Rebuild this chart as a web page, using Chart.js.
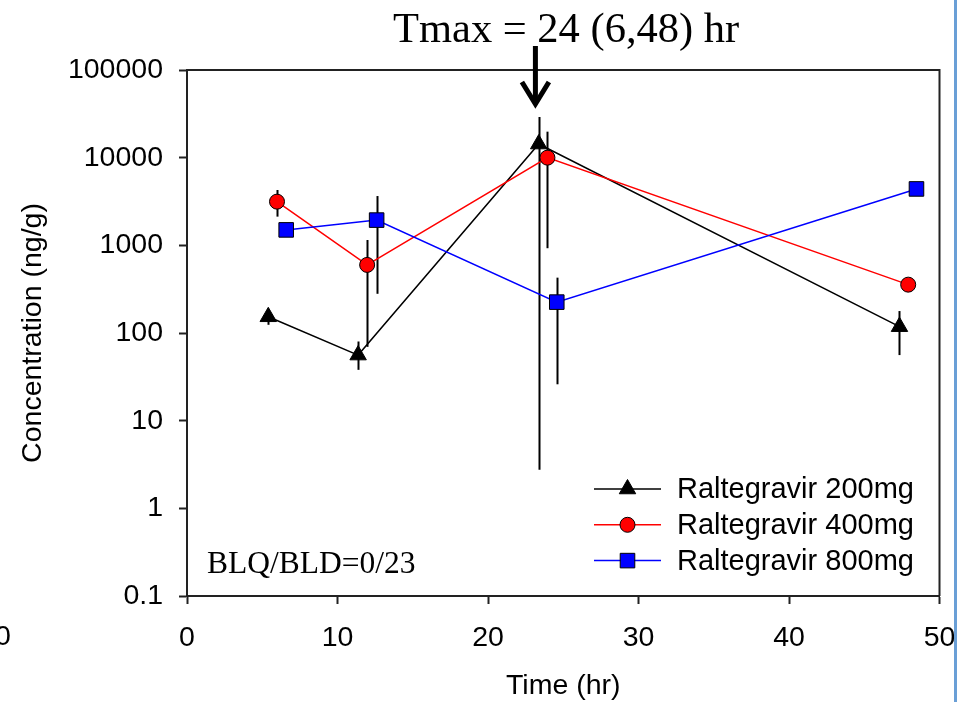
<!DOCTYPE html>
<html>
<head>
<meta charset="utf-8">
<script src="https://cdn.jsdelivr.net/npm/chart.js@4.4.0/dist/chart.umd.min.js"></script>
<style>
html,body{margin:0;padding:0;background:#fff;}
#wrap{width:957px;height:702px;position:relative;}
</style>
</head>
<body>
<div id="wrap"><canvas id="chart" width="957" height="702"></canvas></div>
<script>
// data
const seriesNames = ['Raltegravir 200mg', 'Raltegravir 400mg', 'Raltegravir 800mg'];
const time200 = [5.4, 11.37, 23.37, 47.34];
const conc200 = [153, 56, 14300, 118];
const low200  = [124, 38, 2.75, 56];
const high200 = [175, 80, 29100, 178];

const time400 = [5.98, 11.97, 23.95, 47.92];
const conc400 = [3150, 598, 10000, 356];
const low400  = [2125, 69.5, 927, null];
const high400 = [4280, 1150, 19800, null];

const time800 = [6.59, 12.6, 24.57, 48.47];
const conc800 = [1500, 1940, 225, 4400];
const low800  = [null, 280, 26, null];
const high800 = [null, 3650, 428, null];

const xTicks = [0, 10, 20, 30, 40, 50];
const yTicks = [0.1, 1, 10, 100, 1000, 10000, 100000];

const tmaxText = 'Tmax = 24 (6,48) hr';
const blqText = 'BLQ/BLD=0/23';
const tmaxArrowX = 23.15;

const sans = '"Liberation Sans", Arial, sans-serif';
const serif = '"Liberation Serif", "Times New Roman", serif';

function pts(xs, ys) { return xs.map((x, i) => ({x: x, y: ys[i]})); }

const errs = [[low200, high200], [low400, high400], [low800, high800]];

const extras = {
    id: 'extras',
    beforeDatasetsDraw(chart) {
        const {ctx, scales: {x, y}} = chart;
        ctx.save();
        ctx.strokeStyle = '#000';
        ctx.lineWidth = 2;
        chart.data.datasets.forEach((ds, i) => {
            const [lo, hi] = errs[i];
            ds.data.forEach((p, j) => {
                if (lo[j] == null) return;
                const px = Math.round(x.getPixelForValue(p.x)) + 0.5;
                ctx.beginPath();
                ctx.moveTo(px, y.getPixelForValue(hi[j]));
                ctx.lineTo(px, y.getPixelForValue(lo[j]));
                ctx.stroke();
            });
        });
        ctx.restore();
    },
    afterDraw(chart) {
        const {ctx, chartArea: a, scales: {x}} = chart;
        ctx.save();
        // box top and right
        ctx.strokeStyle = '#222';
        ctx.lineWidth = 2;
        ctx.beginPath();
        ctx.moveTo(a.left, a.top);
        ctx.lineTo(a.right, a.top);
        ctx.lineTo(a.right, a.bottom);
        ctx.stroke();

        // legend
        const lx = 594, lw = 67, ly0 = 489, lgap = 35.8;
        ctx.font = '29px ' + sans;
        ctx.textBaseline = 'middle';
        ctx.textAlign = 'left';
        chart.data.datasets.forEach((ds, i) => {
            const ly = ly0 + i * lgap;
            ctx.strokeStyle = ds.borderColor;
            ctx.lineWidth = 1.5;
            ctx.beginPath();
            ctx.moveTo(lx, ly);
            ctx.lineTo(lx + lw, ly);
            ctx.stroke();
            ctx.fillStyle = ds.pointBackgroundColor;
            ctx.strokeStyle = '#000';
            ctx.lineWidth = 1;
            Chart.helpers.drawPoint(ctx, {pointStyle: ds.pointStyle, radius: ds.pointRadius, rotation: 0, borderWidth: 1}, lx + lw / 2, ly);
            ctx.fillStyle = '#000';
            ctx.fillText(ds.label, 677, ly + 1);
        });

        // axis titles
        ctx.fillStyle = '#000';
        ctx.font = '28.5px ' + sans;
        ctx.textAlign = 'center';
        ctx.textBaseline = 'middle';
        ctx.fillText('Time (hr)', (a.left + a.right) / 2, 686);
        ctx.save();
        ctx.translate(33, (a.top + a.bottom) / 2);
        ctx.rotate(-Math.PI / 2);
        ctx.fillText('Concentration (ng/g)', 0, 0);
        ctx.restore();

        // stray tick label at far left
        ctx.textAlign = 'center';
        ctx.fillText('0', 3, 637);

        // annotations
        ctx.textAlign = 'left';
        ctx.textBaseline = 'alphabetic';
        ctx.font = '42.5px ' + serif;
        ctx.fillText(tmaxText, 393, 42);
        ctx.font = '31.5px ' + serif;
        ctx.fillText(blqText, 207, 573);

        // arrow
        const ax = x.getPixelForValue(tmaxArrowX);
        ctx.strokeStyle = '#000';
        ctx.lineWidth = 5;
        ctx.lineCap = 'butt';
        ctx.beginPath();
        ctx.moveTo(ax, 46);
        ctx.lineTo(ax, 104);
        ctx.stroke();
        ctx.lineJoin = 'miter';
        ctx.beginPath();
        ctx.moveTo(ax - 13.5, 82);
        ctx.lineTo(ax, 104);
        ctx.lineTo(ax + 13.5, 82);
        ctx.stroke();

        // page edge
        ctx.fillStyle = '#6a9fd6';
        ctx.fillRect(954, 0, 3, 702);
        ctx.restore();
    }
};

new Chart(document.getElementById('chart'), {
    type: 'line',
    data: {
        datasets: [
            {label: seriesNames[0], data: pts(time200, conc200), borderColor: '#000', borderWidth: 1.5,
             pointStyle: 'triangle', pointRadius: 9.5, pointBackgroundColor: '#000', pointBorderColor: '#000', pointBorderWidth: 1, order: 3},
            {label: seriesNames[1], data: pts(time400, conc400), borderColor: '#ff0000', borderWidth: 1.5,
             pointStyle: 'circle', pointRadius: 7.5, pointBackgroundColor: '#ff0000', pointBorderColor: '#000', pointBorderWidth: 1, order: 2},
            {label: seriesNames[2], data: pts(time800, conc800), borderColor: '#0000ff', borderWidth: 1.5,
             pointStyle: 'rect', pointRadius: 10.3, pointBackgroundColor: '#0000ff', pointBorderColor: '#000', pointBorderWidth: 1, order: 1}
        ]
    },
    options: {
        responsive: false,
        animation: false,
        devicePixelRatio: 1,
        layout: {padding: {top: 70, right: 17.5, bottom: 0, left: 0}},
        plugins: {legend: {display: false}, tooltip: {enabled: false}},
        scales: {
            x: {
                type: 'linear', min: 0, max: 50,
                afterBuildTicks: s => { s.ticks = xTicks.map(v => ({value: v})); },
                afterFit: s => { s.height = 106; s.paddingLeft = 0; s.paddingRight = 0; },
                grid: {display: true, drawOnChartArea: false, drawTicks: true, tickLength: 8, tickColor: '#222', tickWidth: 2},
                border: {display: true, color: '#222', width: 2},
                ticks: {color: '#000', font: {family: sans, size: 28.5}, padding: 17, maxRotation: 0, autoSkip: false}
            },
            y: {
                type: 'logarithmic', min: 0.1, max: 100000,
                afterBuildTicks: s => { s.ticks = yTicks.map(v => ({value: v})); },
                afterFit: s => { s.width = 187; s.paddingTop = 0; s.paddingBottom = 0; },
                grid: {display: true, drawOnChartArea: false, drawTicks: true, tickLength: 8, tickColor: '#222', tickWidth: 2},
                border: {display: true, color: '#222', width: 2},
                ticks: {color: '#000', font: {family: sans, size: 28.5}, padding: 16, autoSkip: false,
                        callback: v => String(v)}
            }
        }
    },
    plugins: [extras]
});
</script>
</body>
</html>
